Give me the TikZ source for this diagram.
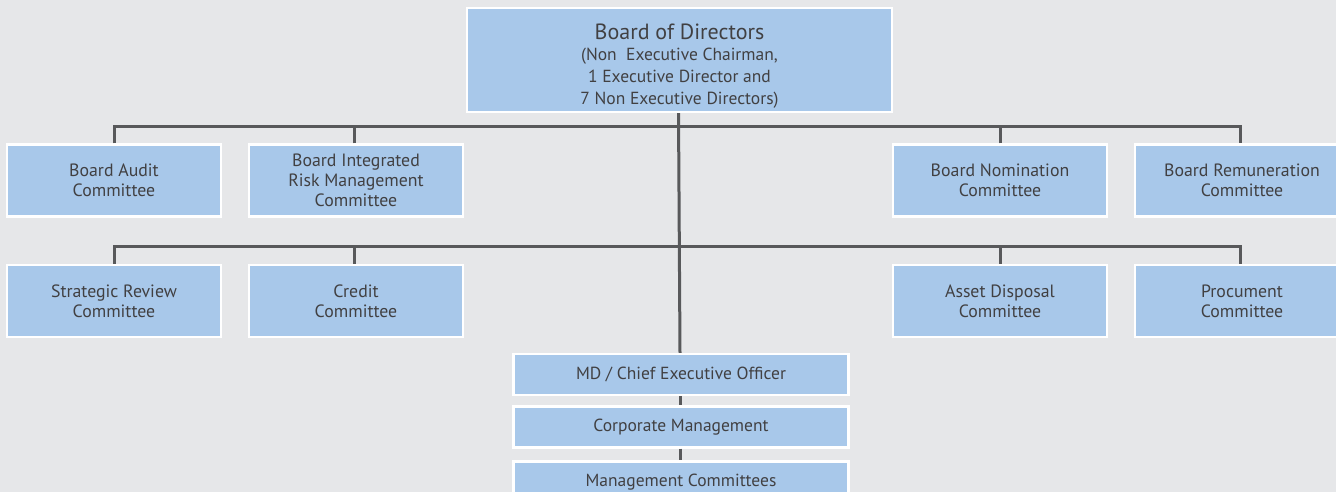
\documentclass[tikz,border=0pt]{standalone}
\usepackage{fontspec}
\setmainfont{PT Sans}
\definecolor{bg}{HTML}{E6E7E9}
\definecolor{boxblue}{HTML}{A8C8EA}
\definecolor{linegrey}{HTML}{58595B}
\definecolor{txt}{HTML}{414042}
\begin{document}
\begin{tikzpicture}[x=1pt,y=-1pt,
  box/.style={fill=boxblue,draw=white,line width=2.2pt,inner sep=0pt,align=center,text=txt,font=\fontsize{17.8}{20}\selectfont},
  rowbox/.style={box,minimum width=214pt,minimum height=72pt},
  mgbox/.style={box,minimum width=335pt,minimum height=41pt,font=\fontsize{17.5}{20}\selectfont},
  conn/.style={draw=linegrey,line width=3pt}]
\useasboundingbox (0,0) rectangle (1336,492);
\fill[bg] (0,0) rectangle (1336,492);
\node[box,minimum width=425pt,minimum height=104pt,font=\fontsize{17.5}{22}\selectfont] (bod) at (679.5,60)
  {\rule{0pt}{27pt}{\fontsize{22}{24}\selectfont Board of Directors}\\[-1pt]
   (Non\ \ Executive Chairman,\\ 1 Executive Director and\\ 7 Non Executive Directors)};
\node[rowbox] (aud) at (114,180.5) {Board Audit\\Committee};
\node[rowbox] (int) at (356,180.5) {Board Integrated\\Risk Management\\Committee};
\node[rowbox] (nom) at (1000,180.5) {Board Nomination\\Committee};
\node[rowbox] (rem) at (1242,180.5) {Board Remuneration\\Committee};
\node[rowbox] (str) at (114,301) {Strategic Review\\Committee};
\node[rowbox] (cre) at (356,301) {Credit\\Committee};
\node[rowbox] (asd) at (1000,301) {Asset Disposal\\Committee};
\node[rowbox] (pro) at (1242,301) {Procument\\Committee};
\node[mgbox] (md) at (681,374.5) {MD / Chief Executive Officer};
\node[mgbox] (cm) at (681,427) {Corporate Management};
\node[mgbox] (mc) at (681,482) {Management Committees};
\coordinate (j1) at (680,127);
\coordinate (j2) at (680,246);
\draw[conn] ([xshift=-1pt]bod.south) -- ([xshift=-1pt]md.north);
\draw[conn] (aud.north) |- (j1) -| ([xshift=-2pt]rem.north);
\draw[conn] ([xshift=-2pt]int.north) -- ([xshift=-2pt]int.north |- j1);
\draw[conn] (nom.north) -- (nom.north |- j1);
\draw[conn] (str.north) |- (j2) -| ([xshift=-2pt]pro.north);
\draw[conn] ([xshift=-2pt]cre.north) -- ([xshift=-2pt]cre.north |- j2);
\draw[conn] (asd.north) -- (asd.north |- j2);
\draw[conn] ([xshift=-1pt]md.south) -- ([xshift=-1pt]cm.north);
\draw[conn] ([xshift=-1pt]cm.south) -- ([xshift=-1pt]mc.north);
\end{tikzpicture}
\end{document}
